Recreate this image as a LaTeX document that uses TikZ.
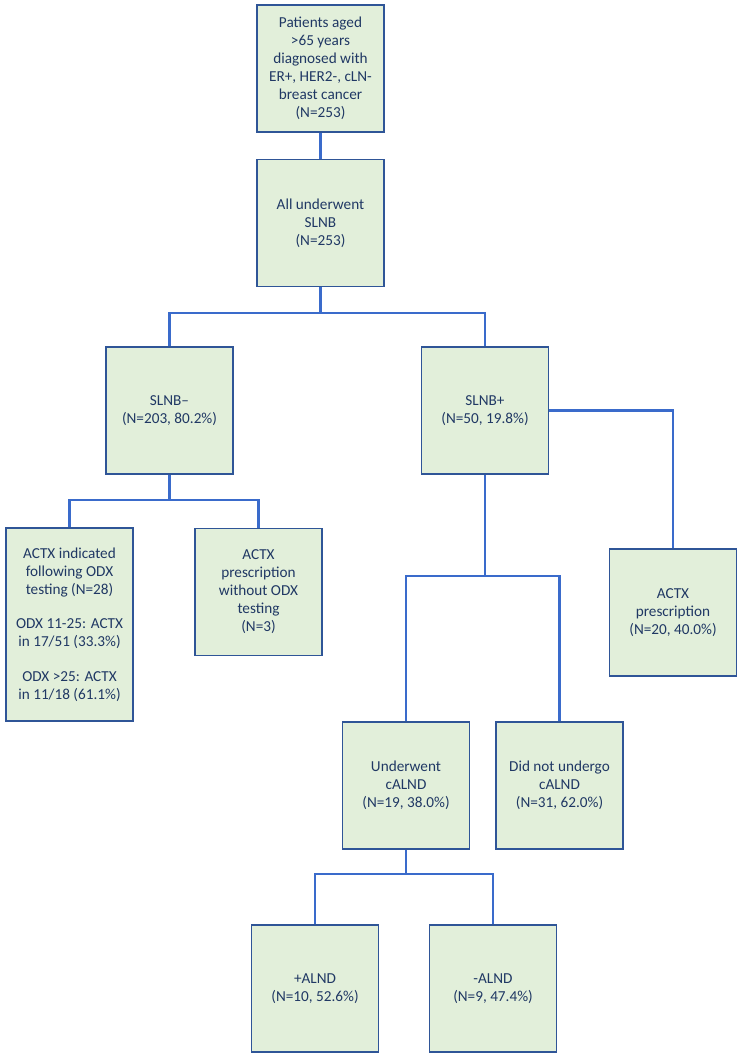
\documentclass[tikz,border=0pt]{standalone}
\usepackage{fontspec}
\setmainfont{Carlito}
\usetikzlibrary{positioning}
\definecolor{boxfill}{HTML}{E2EFDA}
\definecolor{boxedge}{HTML}{2F5597}
\definecolor{linkblue}{HTML}{3A6BCB}
\definecolor{boxtext}{HTML}{203864}
\tikzset{
    flow chart/.style = {line join=miter},
    box/.style        = {draw=boxedge, line width=1.5pt, fill=boxfill,
                         text=boxtext, align=center, inner sep=2pt,
                         minimum width=3.81cm, minimum height=3.81cm,
                         font=\fontsize{13}{15.4}\selectfont},
    tallbox/.style    = {box, minimum height=5.79cm},
    link/.style       = {draw=linkblue, line width=2pt}
}

\begin{document}
\begin{tikzpicture}[flow chart]

\useasboundingbox (0,0) rectangle (22.26,-31.74);

% ================= Cohort =================
\node[box] (cohort) at (9.615, -2.055)
    {Patients aged\\ >65 years\\ diagnosed with\\ ER+, HER2-, cLN-\\ breast cancer\\ (N=253)};
\node[box] (slnb) at (9.615, -6.69) {All underwent\\ SLNB\\ (N=253)};

% ================= SLNB result =================
\node[box] (neg) at (5.085, -12.315) {SLNB--\\ (N=203, 80.2\%)};
\node[box] (pos) at (14.55, -12.315) {SLNB+\\ (N=50, 19.8\%)};

% ================= SLNB negative branch =================
\node[tallbox] (odx) at (2.085, -18.735)
    {ACTX indicated\\ following ODX\\ testing (N=28)\\[14pt]
     ODX 11-25: ACTX\\ in 17/51 (33.3\%)\\[14pt]
     ODX >25: ACTX\\ in 11/18 (61.1\%)};
\node[box] (noodx) at (7.755, -17.76)
    {ACTX\\ prescription\\ without ODX\\ testing\\ (N=3)};

% ================= SLNB positive branch =================
\node[box] (actx) at (20.19, -18.375) {ACTX\\ prescription\\ (N=20, 40.0\%)};
\node[box] (cal) at (12.18, -23.565) {Underwent\\ cALND\\ (N=19, 38.0\%)};
\node[box] (nocal) at (16.785, -23.565) {Did not undergo\\ cALND\\ (N=31, 62.0\%)};

% ================= ALND =================
\node[box] (plus) at (9.45, -29.655) {+ALND\\ (N=10, 52.6\%)};
\node[box] (minus) at (14.79, -29.655) {-ALND\\ (N=9, 47.4\%)};

% ================= Connectors =================
\coordinate (split slnb) at (9.615, -9.39);
\coordinate (split neg) at (5.085, -15.0);
\coordinate (split pos) at (14.55, -17.28);
\coordinate (split cal) at (12.18, -26.22);

\draw[link] (cohort) -- (slnb);
\draw[link] (slnb) -- (split slnb);
\draw[link] (neg.north) |- (split slnb) -| (pos.north);
\draw[link] (neg) -- (split neg);
\draw[link] (odx.north) |- (split neg) -| (noodx.north);
\draw[link] (pos.east) -| (actx.north);
\draw[link] (pos) -- (split pos);
\draw[link] (cal.north) |- (split pos) -| (nocal.north);
\draw[link] (cal) -- (split cal);
\draw[link] (plus.north) |- (split cal) -| (minus.north);

\end{tikzpicture}
\end{document}
